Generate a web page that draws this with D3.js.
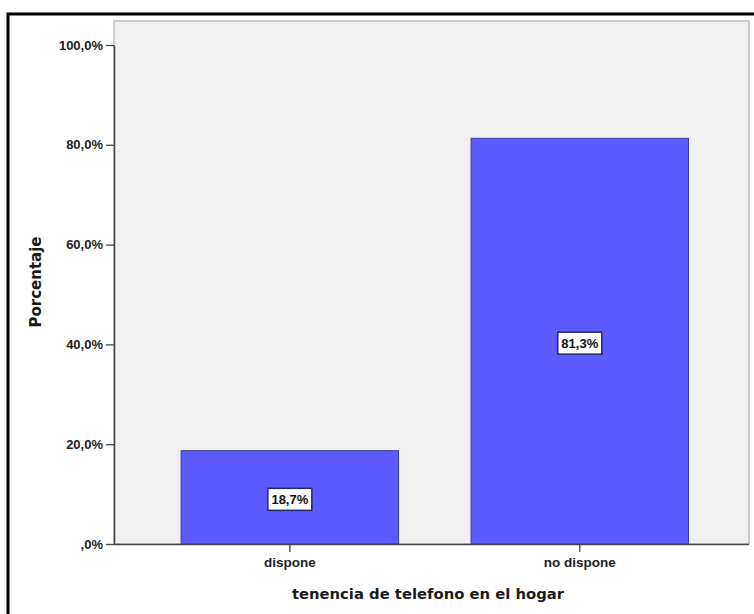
<!DOCTYPE html>
<html><head><meta charset="utf-8">
<script src="https://cdn.jsdelivr.net/npm/d3@7"></script>
<style>body{margin:0;background:#fff}svg{display:block}</style>
</head><body>
<script>
const categories = ["dispone", "no dispone"];
const values = [18.7, 81.3];
const labels = ["18,7%", "81,3%"];
const yTicks = [0, 20, 40, 60, 80, 100];
const yTickLabels = [",0%", "20,0%", "40,0%", "60,0%", "80,0%", "100,0%"];
const xTitle = "tenencia de telefono en el hogar";
const yTitle = "Porcentaje";

const W = 754, H = 614;
const svg = d3.select("body").append("svg").attr("width", W).attr("height", H);

// outer frame
svg.append("rect").attr("x", 8).attr("y", 14).attr("width", 770).attr("height", 640)
  .attr("fill", "#fff").attr("stroke", "#000").attr("stroke-width", 3);

const L = 114, R = 749, T = 21, B = 544;
const y = d3.scaleLinear().domain([0, 100]).range([B, 45]);
const x = d3.scaleBand().domain(categories).range([L, R])
  .paddingInner(0.25).paddingOuter(0.22).align(0.526);

// plot background
svg.append("rect").attr("x", L).attr("y", T).attr("width", R - L).attr("height", B - T)
  .attr("fill", "#f0f0f0").attr("stroke", "#bdbdbd").attr("stroke-width", 1.5);

// bars
svg.selectAll(".bar").data(values).enter().append("rect")
  .attr("x", (d, i) => x(categories[i]))
  .attr("y", d => y(d))
  .attr("width", x.bandwidth())
  .attr("height", d => y(0) - y(d))
  .attr("fill", "#5b5bff").attr("stroke", "#3b3b9a").attr("stroke-width", 1);

const labFont = "Liberation Sans, Arial, sans-serif";

// y axis
const yAxis = d3.axisLeft(y).tickValues(yTicks).tickSize(8).tickSizeOuter(0)
  .tickFormat((d, i) => yTickLabels[i]);
const gy = svg.append("g").attr("transform", `translate(${L},0)`).call(yAxis);
gy.select(".domain").attr("stroke", "#444").attr("stroke-width", 1.5);
gy.selectAll(".tick line").attr("stroke", "#444").attr("stroke-width", 1.3);
gy.selectAll(".tick text").attr("font-family", labFont)
  .attr("font-weight", "bold").attr("font-size", 13).attr("fill", "#222").attr("x", -11);

// x axis
const xAxis = d3.axisBottom(x).tickSize(8).tickSizeOuter(0);
const gx = svg.append("g").attr("transform", `translate(0,${B})`).call(xAxis);
gx.select(".domain").attr("stroke", "#444").attr("stroke-width", 1.5)
  .attr("d", `M${L},0.5H${R}`);
gx.selectAll(".tick line").attr("stroke", "#444").attr("stroke-width", 1.3);
gx.selectAll(".tick text").attr("font-family", labFont)
  .attr("font-weight", "bold").attr("font-size", 13.5).attr("fill", "#222").attr("y", 13);

// data labels
const lab = svg.selectAll(".lab").data(values).enter().append("g")
  .attr("transform", (d, i) => `translate(${x(categories[i]) + x.bandwidth() / 2},${(y(d) + y(0)) / 2 + 2})`);
lab.append("rect").attr("x", -22).attr("y", -11).attr("width", 44).attr("height", 22)
  .attr("fill", "#fff").attr("stroke", "#1e2a6a").attr("stroke-width", 1.5);
lab.append("text").text((d, i) => labels[i]).attr("text-anchor", "middle").attr("dy", "0.36em")
  .attr("font-family", labFont).attr("font-weight", "bold")
  .attr("font-size", 13).attr("fill", "#111");

// titles
svg.append("text").text(xTitle).attr("x", 428).attr("y", 599).attr("text-anchor", "middle")
  .attr("font-family", "DejaVu Sans, Verdana, sans-serif").attr("font-weight", "bold")
  .attr("font-size", 14.8).attr("fill", "#1a1a1a");
svg.append("text").text(yTitle).attr("transform", "translate(41,282) rotate(-90)")
  .attr("text-anchor", "middle")
  .attr("font-family", "DejaVu Sans, Verdana, sans-serif").attr("font-weight", "bold")
  .attr("font-size", 15).attr("fill", "#1a1a1a");
</script>
</body></html>
